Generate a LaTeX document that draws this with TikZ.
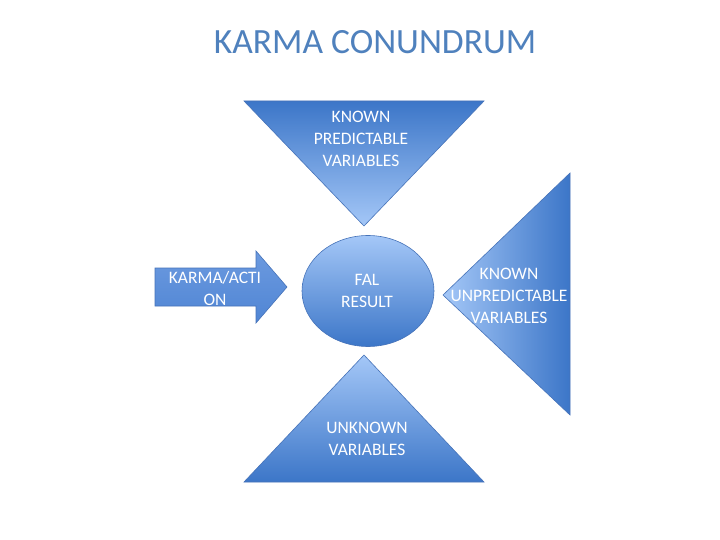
\documentclass[tikz,border=0pt]{standalone}
\usepackage{fontspec}
\setmainfont{Carlito}
\usepackage{tikz}
\usetikzlibrary{shapes.geometric}
\definecolor{KarmaDark}{RGB}{60,118,200}
\definecolor{KarmaLight}{RGB}{164,199,247}
\definecolor{KarmaMid}{RGB}{92,143,220}
\definecolor{KarmaEdge}{RGB}{70,115,185}
\definecolor{KarmaTitle}{RGB}{79,129,189}

\begin{document}
\begin{tikzpicture}[x=1pt, y=-1pt,
    panel/.style={draw=KarmaEdge, line width=0.6pt},
    caption/.style={text=white, align=center, font=\fontsize{17.5}{22}\selectfont}
  ]
  \useasboundingbox[fill=white] (0,0) rectangle (720,540);
  \node[text=KarmaTitle, font=\fontsize{35.5}{40}\selectfont] (title) at (375,42) {KARMA CONUNDRUM};

  % shapes
  \shade[panel, top color=KarmaDark, bottom color=KarmaLight] (244,101) -- (484,101) -- (364,226) -- cycle;
  \shade[panel, top color=KarmaLight, bottom color=KarmaDark] (364,355) -- (484,482) -- (244,482) -- cycle;
  \shade[panel, left color=KarmaLight, right color=KarmaDark] (443,295) -- (570,173) -- (570,415) -- cycle;
  \shade[panel, top color=KarmaMid!90!white, bottom color=KarmaMid!60!KarmaDark] (155,268) -- (256,268) -- (256,251) -- (287,287)
    -- (256,323) -- (256,306) -- (155,306) -- cycle;
  \node[panel, ellipse, top color=KarmaLight, bottom color=KarmaDark, minimum width=132pt, minimum height=111pt] (result) at (368,291) {};

  % texts
  \node[caption] (known) at (361,139) {KNOWN\\PREDICTABLE\\VARIABLES};
  \node[caption] (karma) at (215,288) {KARMA/ACTI\\ON};
  \node[caption] (fal) at (367,291) {FAL\\RESULT};
  \node[caption] (unpred) at (509,296) {KNOWN\\UNPREDICTABLE\\VARIABLES};
  \node[caption] (unknown) at (367,439) {UNKNOWN\\VARIABLES};
\end{tikzpicture}
\end{document}
